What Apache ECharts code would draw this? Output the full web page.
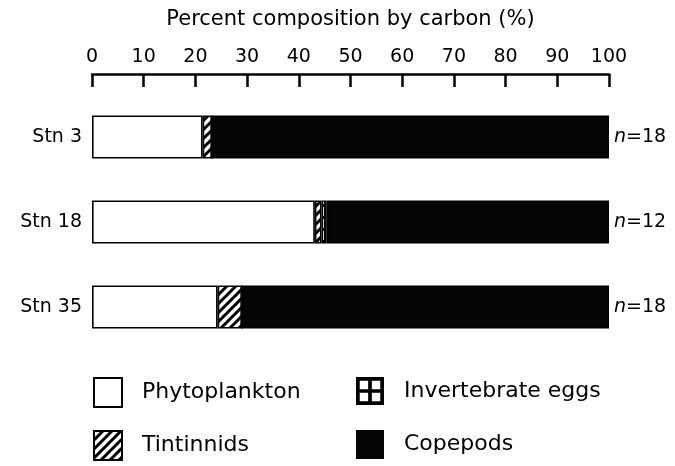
<!DOCTYPE html>
<html>
<head>
<meta charset="utf-8">
<script src="https://cdn.jsdelivr.net/npm/echarts@6/dist/echarts.min.js"></script>
<style>
  html, body { margin: 0; padding: 0; background: #fff; }
  #chart { width: 675px; height: 466px; }
</style>
</head>
<body>
<div id="chart"></div>
<script>
// stations, top to bottom
const stations = ['Stn 3', 'Stn 18', 'Stn 35']
// percent composition by carbon (%)
const phytoplankton = [21.4, 43.1, 24.3]
const tintinnids = [1.8, 1.3, 4.7]
const invertebrateEggs = [0, 1.0, 0]
const copepods = [76.8, 54.6, 71.0]
// number of samples
const nValues = [18, 12, 18]

const font = 'DejaVu Sans'

// diagonal hatch for tintinnids
function hatchPattern() {
  const s = 9
  const c = document.createElement('canvas')
  c.width = s
  c.height = s
  const ctx = c.getContext('2d')
  ctx.fillStyle = '#fff'
  ctx.fillRect(0, 0, s, s)
  ctx.strokeStyle = '#000'
  ctx.lineWidth = 3
  ctx.beginPath()
  ctx.moveTo(-1, s + 1); ctx.lineTo(s + 1, -1)
  ctx.moveTo(-1, 1); ctx.lineTo(1, -1)
  ctx.moveTo(s - 1, s + 1); ctx.lineTo(s + 1, s - 1)
  ctx.stroke()
  return { image: c, repeat: 'repeat' }
}

// grid for invertebrate eggs
function gridPattern() {
  const s = 12
  const c = document.createElement('canvas')
  c.width = s
  c.height = s
  const ctx = c.getContext('2d')
  ctx.fillStyle = '#fff'
  ctx.fillRect(0, 0, s, s)
  ctx.fillStyle = '#000'
  ctx.fillRect(0, 0, 3, s)
  ctx.fillRect(0, 0, s, 3)
  return { image: c, repeat: 'repeat' }
}

const hatch = hatchPattern()
const grid = gridPattern()

// box with a cross: outer square, four inner holes wound the other way
const crossIcon = 'path://M0,0L30,0L30,30L0,30Z' +
  'M4,4L4,13L13,13L13,4Z' +
  'M17,4L17,13L26,13L26,4Z' +
  'M4,17L4,26L13,26L13,17Z' +
  'M17,17L17,26L26,26L26,17Z'

const myChart = echarts.init(document.getElementById('chart'))

const barStyle = (color) => ({
  color: color,
  borderColor: '#000',
  borderWidth: 1.6
})

// one legend per item so each sits where the original has it
const legendItem = (left, top, item) => ({
  left: left,
  top: top,
  itemWidth: 28,
  itemHeight: 29,
  textStyle: { fontSize: 22, color: '#000', padding: [0, 0, 0, 15] },
  data: [item]
})

const option = {
  animation: false,
  textStyle: { fontFamily: font },
  grid: { left: 92, right: 66, top: 94.5, bottom: 116.5 },
  legend: [
    legendItem(88, 372, { name: 'Phytoplankton', icon: 'rect', itemStyle: { color: '#fff', borderColor: '#000', borderWidth: 2 } }),
    legendItem(88, 425, { name: 'Tintinnids', icon: 'rect', itemStyle: { color: hatch, borderColor: '#000', borderWidth: 2 } }),
    legendItem(351, 372, { name: 'Invertebrate eggs', icon: crossIcon, itemStyle: { color: '#000', borderWidth: 0 } }),
    legendItem(351, 425, { name: 'Copepods', icon: 'rect', itemStyle: { color: '#050505', borderWidth: 0 } })
  ],
  xAxis: {
    type: 'value',
    position: 'top',
    offset: 20.5,
    min: 0,
    max: 100,
    interval: 10,
    name: 'Percent composition by carbon (%)',
    nameLocation: 'middle',
    nameGap: 44,
    nameTextStyle: { fontSize: 21, color: '#000' },
    axisLine: { show: true, lineStyle: { color: '#000', width: 2.5 } },
    axisTick: { show: true, inside: true, length: 13, lineStyle: { color: '#000', width: 2.5 } },
    axisLabel: { fontSize: 19, color: '#000', margin: 7 },
    splitLine: { show: false }
  },
  yAxis: {
    type: 'category',
    inverse: true,
    data: stations,
    axisLine: { show: false },
    axisTick: { show: false },
    axisLabel: { fontSize: 19, color: '#000', margin: 10 }
  },
  series: [
    {
      name: 'Phytoplankton',
      type: 'bar',
      stack: 'total',
      barWidth: 43,
      data: phytoplankton,
      itemStyle: barStyle('#fff')
    },
    {
      name: 'Tintinnids',
      type: 'bar',
      stack: 'total',
      barWidth: 43,
      data: tintinnids,
      itemStyle: barStyle(hatch)
    },
    {
      name: 'Invertebrate eggs',
      type: 'bar',
      stack: 'total',
      barWidth: 43,
      data: invertebrateEggs,
      itemStyle: barStyle(grid)
    },
    {
      name: 'Copepods',
      type: 'bar',
      stack: 'total',
      barWidth: 43,
      data: copepods,
      itemStyle: barStyle('#050505'),
      label: {
        show: true,
        position: 'right',
        distance: 5,
        fontSize: 19,
        color: '#000',
        formatter: (p) => '{i|n}=' + nValues[p.dataIndex],
        rich: {
          i: { fontStyle: 'italic', fontSize: 19, color: '#000' }
        }
      }
    }
  ]
}

myChart.setOption(option)
</script>
</body>
</html>
